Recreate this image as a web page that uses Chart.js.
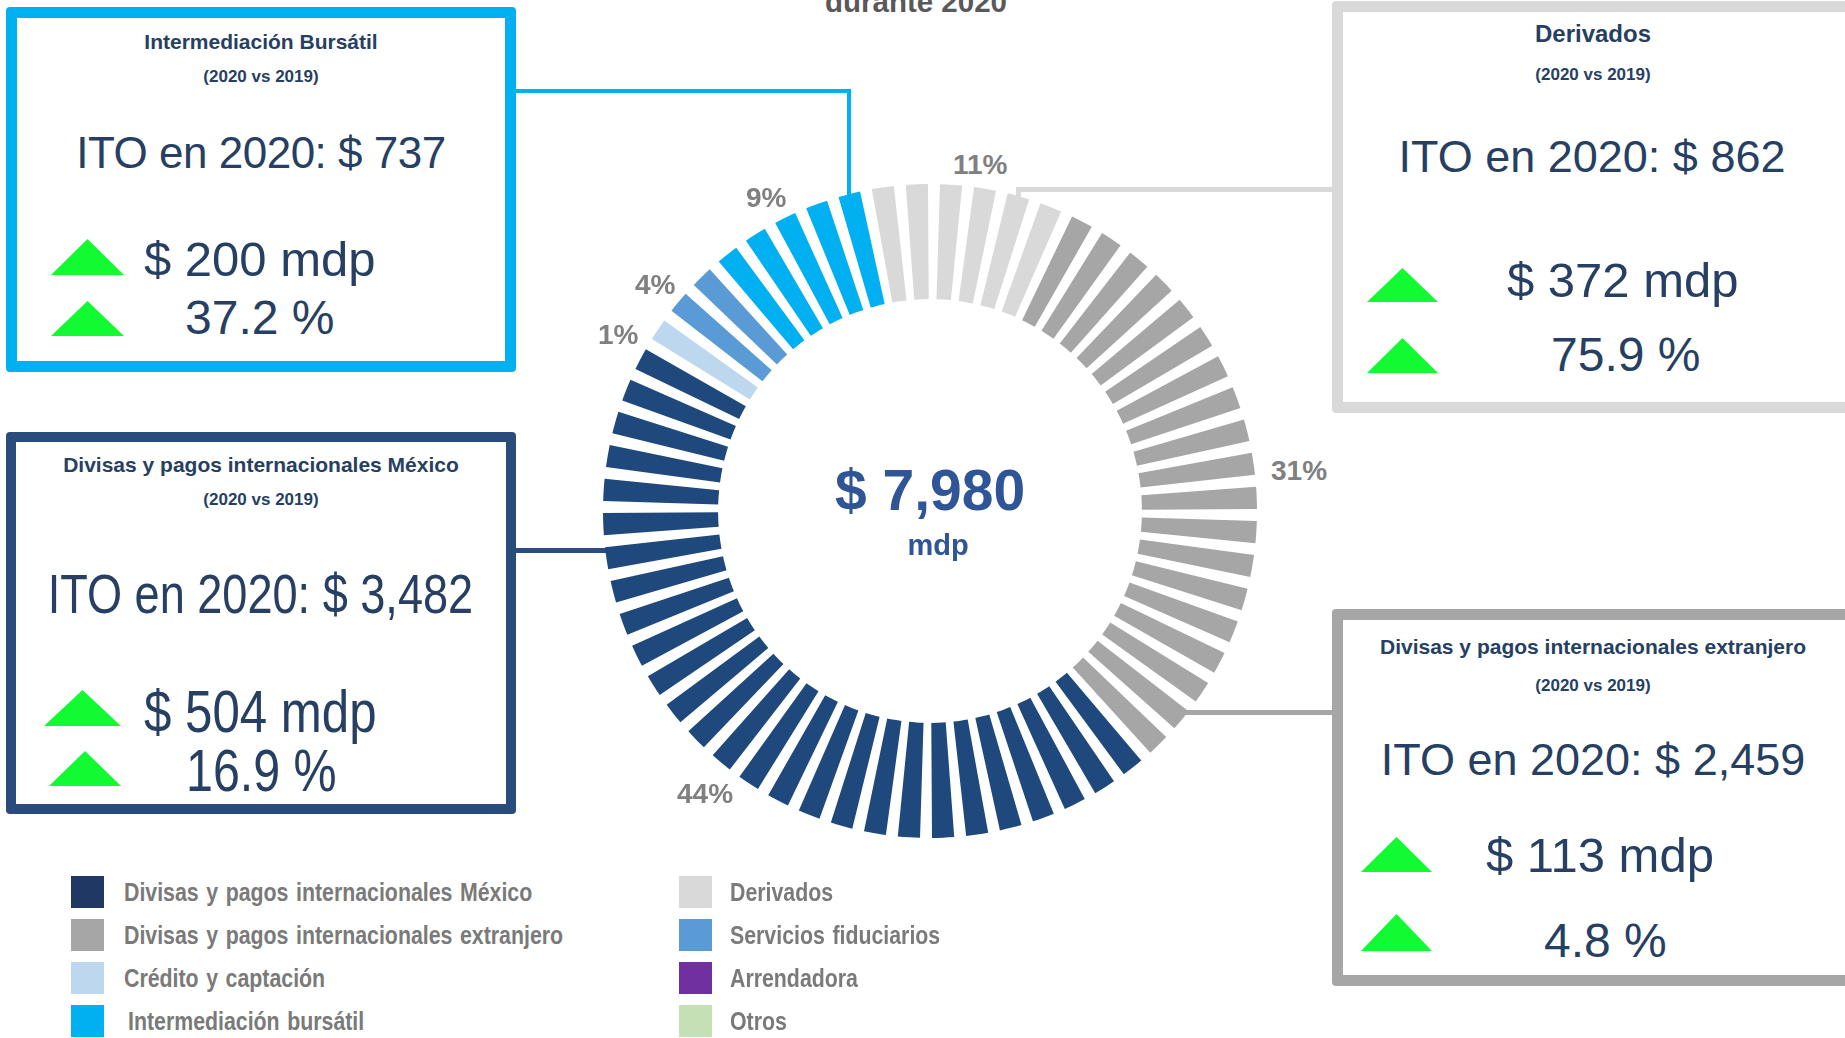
<!DOCTYPE html>
<html>
<head>
<meta charset="utf-8">
<script src="https://cdn.jsdelivr.net/npm/chart.js@4.4.1/dist/chart.umd.min.js"></script>
<style>
  html, body { margin:0; padding:0; background:#ffffff; }
  body { width:1845px; height:1038px; overflow:hidden; position:relative; font-family:'Liberation Sans', Arial, sans-serif; color:#263F63; }
  .abs { position:absolute; white-space:nowrap; line-height:1; }
  .box { position:absolute; box-sizing:border-box; border-radius:4px; background:#fff; }
  .ctr { text-align:center; }
  .b { font-weight:bold; }
  .nar { display:inline-block; transform:scaleX(0.82); }
  .narL { display:inline-block; transform:scaleX(0.82); transform-origin:left center; }
  .tri { position:absolute; background:#12FA32; clip-path:polygon(50% 0, 100% 100%, 0 100%); }
  .line { position:absolute; }
  .pct { position:absolute; font-weight:bold; font-size:28px; color:#808080; line-height:1; white-space:nowrap; }
  .sq { position:absolute; width:33px; height:32px; }
  .lg { position:absolute; font-weight:bold; font-size:26px; color:#7A7A7A; line-height:1; white-space:nowrap; word-spacing:2px; }
</style>
</head>
<body>

<!-- title (cut at top) -->
<div class="abs b" style="left:716px; width:400px; text-align:center; top:-13px; font-size:29.5px; color:#595959;">durante 2020</div>

<!-- connectors -->
<div class="line" style="left:512px; top:89px; width:339px; height:4px; background:#00B0F0;"></div>
<div class="line" style="left:847px; top:89px; width:4px; height:108px; background:#00B0F0;"></div>

<div class="line" style="left:1016px; top:187px; width:320px; height:5px; background:#D9D9D9;"></div>
<div class="line" style="left:1016px; top:187px; width:5px; height:18px; background:#D9D9D9;"></div>

<div class="line" style="left:512px; top:548px; width:100px; height:5px; background:#2B4C7E;"></div>

<div class="line" style="left:1178px; top:710px; width:158px; height:5px; background:#A6A6A6;"></div>

<!-- Box 1: Intermediación Bursátil -->
<div class="box" style="left:6px; top:7px; width:510px; height:365px; border:11px solid #00B0F0;"></div>
<div class="abs b ctr" style="left:11px; width:500px; top:31px; font-size:21px;">Intermediación Bursátil</div>
<div class="abs b ctr" style="left:11px; width:500px; top:68px; font-size:17px;">(2020 vs 2019)</div>
<div class="abs ctr" style="left:11px; width:500px; top:131px; font-size:44px; letter-spacing:-0.5px;">ITO en 2020: $ 737</div>
<div class="tri" style="left:51px; top:239px; width:73px; height:36px;"></div>
<div class="abs" style="left:144px; top:235px; font-size:49px;">$ 200 mdp</div>
<div class="tri" style="left:51px; top:301px; width:73px; height:35px;"></div>
<div class="abs" style="left:185px; top:294px; font-size:48px;">37.2 %</div>

<!-- Box 3: Divisas y pagos internacionales México -->
<div class="box" style="left:6px; top:432px; width:510px; height:382px; border:10px solid #2A4C7C;"></div>
<div class="abs b ctr" style="left:11px; width:500px; top:454px; font-size:21px;">Divisas y pagos internacionales México</div>
<div class="abs b ctr" style="left:11px; width:500px; top:491px; font-size:17px;">(2020 vs 2019)</div>
<div class="abs ctr" style="left:-140px; width:800px; top:567px; font-size:55px;"><span class="nar">ITO en 2020: $ 3,482</span></div>
<div class="tri" style="left:44px; top:690px; width:77px; height:36px;"></div>
<div class="abs" style="left:144px; top:682px; font-size:60px;"><span class="narL">$ 504 mdp</span></div>
<div class="tri" style="left:49px; top:751px; width:72px; height:35px;"></div>
<div class="abs" style="left:186px; top:742px; font-size:59px;"><span class="narL">16.9 %</span></div>

<!-- Box 2: Derivados -->
<div class="box" style="left:1332px; top:1px; width:540px; height:412px; border:11px solid #D9D9D9;"></div>
<div class="abs b ctr" style="left:1343px; width:500px; top:22px; font-size:24px;">Derivados</div>
<div class="abs b ctr" style="left:1343px; width:500px; top:66px; font-size:17px;">(2020 vs 2019)</div>
<div class="abs ctr" style="left:1342px; width:500px; top:134px; font-size:45px;">ITO en 2020: $ 862</div>
<div class="tri" style="left:1367px; top:268px; width:71px; height:34px;"></div>
<div class="abs" style="left:1507px; top:256px; font-size:49px;">$ 372 mdp</div>
<div class="tri" style="left:1367px; top:338px; width:71px; height:35px;"></div>
<div class="abs" style="left:1551px; top:331px; font-size:48px;">75.9 %</div>

<!-- Box 4: Divisas y pagos internacionales extranjero -->
<div class="box" style="left:1332px; top:609px; width:540px; height:377px; border:11px solid #A6A6A6;"></div>
<div class="abs b ctr" style="left:1343px; width:500px; top:636px; font-size:21px;">Divisas y pagos internacionales extranjero</div>
<div class="abs b ctr" style="left:1343px; width:500px; top:677px; font-size:17px;">(2020 vs 2019)</div>
<div class="abs ctr" style="left:1343px; width:500px; top:737px; font-size:45px;">ITO en 2020: $ 2,459</div>
<div class="tri" style="left:1361px; top:837px; width:71px; height:35px;"></div>
<div class="abs" style="left:1486px; top:831px; font-size:49px;">$ 113 mdp</div>
<div class="tri" style="left:1361px; top:914px; width:71px; height:37px;"></div>
<div class="abs" style="left:1544px; top:917px; font-size:48px;">4.8 %</div>

<!-- donut -->
<canvas id="ring" width="654" height="654" style="position:absolute; left:603px; top:184px; width:654px; height:654px;"></canvas>

<div class="abs b ctr" style="left:730px; width:400px; top:462px; font-size:57px; color:#2F5597;">$ 7,980</div>
<div class="abs b ctr" style="left:738px; width:400px; top:531px; font-size:29px; color:#2F5597;">mdp</div>

<!-- share labels -->
<div class="pct" style="left:953px; top:151px;">11%</div>
<div class="pct" style="left:746px; top:184px;">9%</div>
<div class="pct" style="left:635px; top:271px;">4%</div>
<div class="pct" style="left:598px; top:321px;">1%</div>
<div class="pct" style="left:1271px; top:457px;">31%</div>
<div class="pct" style="left:677px; top:780px;">44%</div>

<!-- legend -->
<div id="legend"></div>

<script>
// ---- data ----
const categories = [
  'Divisas y pagos internacionales México',
  'Divisas y pagos internacionales extranjero',
  'Crédito y captación',
  'Intermediación bursátil',
  'Derivados',
  'Servicios fiduciarios',
  'Arrendadora',
  'Otros'
];
const categoryColors = ['#1F497D', '#A6A6A6', '#BDD7EE', '#00B0F0', '#D9D9D9', '#5B9BD5', '#7030A0', '#C5E0B4'];
const legendColors   = ['#1F3864', '#A6A6A6', '#BDD7EE', '#00B0F0', '#D9D9D9', '#5B9BD5', '#7030A0', '#C5E0B4'];
const sharePct   = [44, 31, 1, 9, 11, 4, 0, 0];
const ito2020    = [3482, 2459, null, 737, 862, null, null, null];
const barCounts  = [27, 19, 1, 5, 6, 2, 0, 0];      // segmented bars per category in the ring
const ringOrder  = [4, 1, 0, 2, 5, 3];              // clockwise from the top
const barShare = 0.65, gapShare = 0.35;             // bar / gap part of each bar step

// ---- build ring dataset ----
const ringValues = [], ringColors = [];
ringOrder.forEach(ci => {
  for (let k = 0; k < barCounts[ci]; k++) {
    ringValues.push(barShare); ringColors.push(categoryColors[ci]);
    ringValues.push(gapShare); ringColors.push('rgba(0,0,0,0)');
  }
});

new Chart(document.getElementById('ring'), {
  type: 'doughnut',
  data: {
    labels: ringValues.map((v, i) => String(i)),
    datasets: [{
      data: ringValues,
      backgroundColor: ringColors,
      borderWidth: 0,
      hoverOffset: 0,
      offset: 0
    }]
  },
  options: {
    responsive: false,
    maintainAspectRatio: false,
    animation: false,
    events: [],
    cutout: '64.8%',
    rotation: -10.25,
    layout: { padding: 0 },
    plugins: { legend: { display: false }, tooltip: { enabled: false } }
  }
});

// ---- legend ----
const legendLayout = [
  [0, 71, 124, 892], [1, 71, 124, 935], [2, 71, 124, 978], [3, 71, 128, 1021],
  [4, 679, 730, 892], [5, 679, 730, 935], [6, 679, 730, 978], [7, 679, 730, 1021]
];
const lg = document.getElementById('legend');
legendLayout.forEach(([ci, sx, tx, cy]) => {
  const s = document.createElement('div');
  s.className = 'sq';
  s.style.left = sx + 'px'; s.style.top = (cy - 16) + 'px';
  s.style.background = legendColors[ci];
  lg.appendChild(s);
  const t = document.createElement('div');
  t.className = 'lg';
  t.style.left = tx + 'px'; t.style.top = (cy - 13) + 'px';
  t.innerHTML = '<span class="narL">' + categories[ci] + '</span>';
  lg.appendChild(t);
});
</script>
</body>
</html>
